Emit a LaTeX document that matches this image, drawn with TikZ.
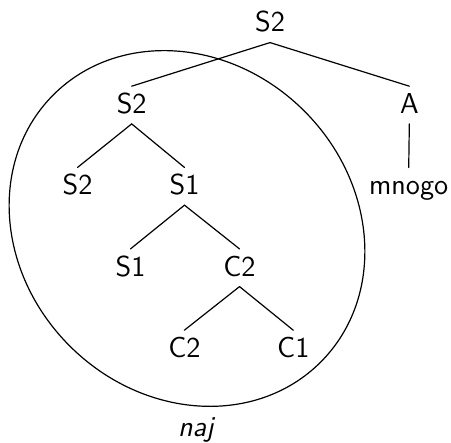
\documentclass[tikz,border=0pt]{standalone}
\usepackage{tikz}
\usepackage{amsmath}
\tikzstyle{every path}=[line width=0.6pt, line cap=round, line join=round]
\tikzstyle{nodo}=[font=\sffamily\Large, inner sep=3pt, text height=10.25pt, text depth=2pt]

\begin{document}
\begin{tikzpicture}
          \useasboundingbox (0,0) rectangle (7.925,7.767);
          %raiz
          \node[nodo] (r) at (4.745,7.350) {S2};
          %nivel 1
          \node[nodo] (s2a) at (2.314,5.921) {S2};
          \node[nodo] (a) at (7.193,5.921) {A};
          %nivel 2
          \node[nodo] (s2b) at (1.362,4.493) {S2};
          \node[nodo] (s1a) at (3.242,4.493) {S1};
          \node[nodo] (mn) at (7.182,4.493) {mnogo};
          %nivel 3
          \node[nodo] (s1b) at (2.293,3.062) {S1};
          \node[nodo] (c2a) at (4.209,3.062) {C2};
          %nivel 4
          \node[nodo] (c2b) at (3.239,1.633) {C2};
          \node[nodo] (c1) at (5.154,1.633) {C1};
          %ramas
          \draw (r.south) -- (s2a.north);
          \draw (r.south) -- (a.north);
          \draw (a.south) -- (mn.north);
          \draw (s2a.south) -- (s2b.north);
          \draw (s2a.south) -- (s1a.north);
          \draw (s1a.south) -- (s1b.north);
          \draw (s1a.south) -- (c2a.north);
          \draw (c2a.south) -- (c2b.north);
          \draw (c2a.south) -- (c1.north);
          %elipse
          \coordinate (centro) at (3.286,3.752);
          \draw[rotate around={-45:(centro)}] (centro) ellipse (3.321 and 2.917);
          \node[nodo, anchor=base] (naj) at (3.456,0.093) {\textit{naj}};
\end{tikzpicture}
\end{document}
